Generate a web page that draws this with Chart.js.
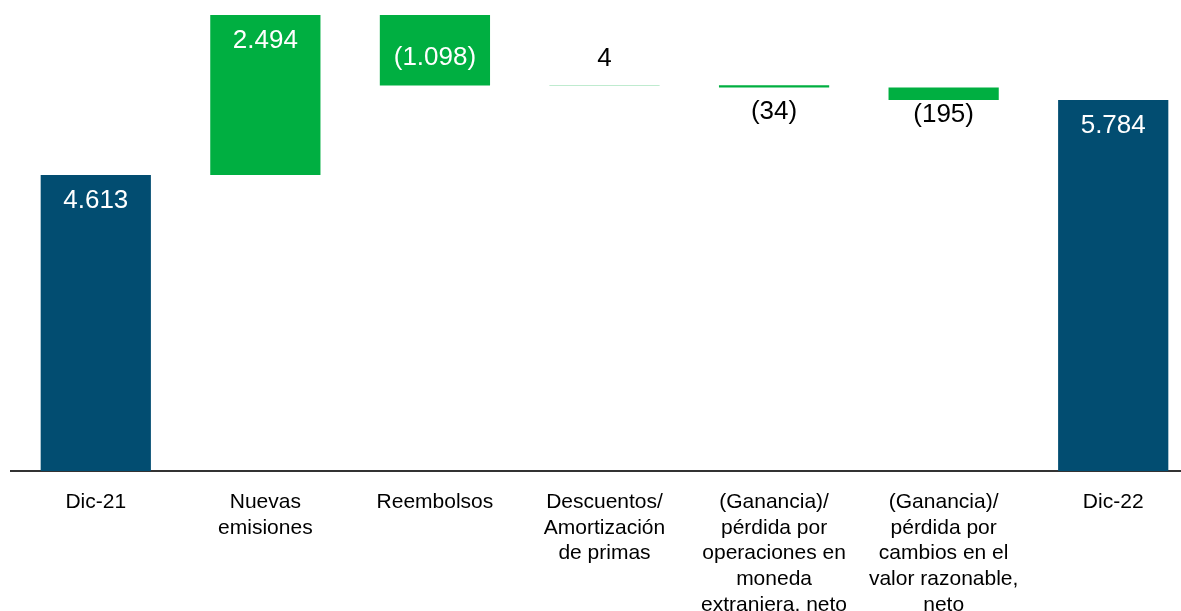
<!DOCTYPE html>
<html>
<head>
<meta charset="utf-8">
<script src="https://cdn.jsdelivr.net/npm/chart.js@4.4.1/dist/chart.umd.min.js"></script>
<style>
  html, body { margin: 0; padding: 0; background: #fff; overflow: hidden; }
  #wrap { width: 1198px; height: 611px; }
</style>
</head>
<body>
<div id="wrap"><canvas id="grafico"></canvas></div>
<script>
// Datos del gráfico
const categorias = [
    'Dic-21',
    ['Nuevas', 'emisiones'],
    'Reembolsos',
    ['Descuentos/', 'Amortización', 'de primas'],
    ['(Ganancia)/', 'pérdida por', 'operaciones en', 'moneda', 'extranjera, neto'],
    ['(Ganancia)/', 'pérdida por', 'cambios en el', 'valor razonable,', 'neto'],
    'Dic-22'
];
const valores = [4613, 2494, -1098, 4, -34, -195, 5784];
const esTotal = [true, false, false, false, false, false, true];

const azul = '#024d71';
const verde = '#00af41';

// Barras flotantes de la cascada
const rangos = [];
let acumulado = 0;
for (let i = 0; i < valores.length; i++) {
    if (esTotal[i]) {
        rangos.push([0, valores[i]]);
        acumulado = valores[i];
    } else {
        rangos.push([acumulado, acumulado + valores[i]]);
        acumulado += valores[i];
    }
}

function formato(v) {
    const s = Math.abs(v).toString().replace(/\B(?=(\d{3})+(?!\d))/g, '.');
    return v < 0 ? '(' + s + ')' : s;
}

const etiquetas = {
    id: 'etiquetas',
    afterDatasetsDraw(chart) {
        const ctx = chart.ctx;
        const meta = chart.getDatasetMeta(0);
        ctx.save();
        ctx.font = '26px "Liberation Sans", Arial, sans-serif';
        ctx.textAlign = 'center';
        ctx.textBaseline = 'middle';
        meta.data.forEach((bar, i) => {
            const v = valores[i];
            const top = Math.min(bar.y, bar.base);
            const bottom = Math.max(bar.y, bar.base);
            const alto = bottom - top;
            let y;
            if (alto > 40) {
                ctx.fillStyle = '#fff';
                y = v < 0 && !esTotal[i] ? (top + bottom) / 2 + 8 : top + 26;
            } else {
                ctx.fillStyle = '#000';
                y = v >= 0 ? top - 26 : top + 27;
            }
            ctx.fillText(formato(v), bar.x, y);
        });
        ctx.restore();
    }
};

new Chart(document.getElementById('grafico').getContext('2d'), {
    type: 'bar',
    data: {
        labels: categorias,
        datasets: [{
            data: rangos,
            backgroundColor: esTotal.map(t => t ? azul : verde),
            borderWidth: 0,
            borderSkipped: false,
            categoryPercentage: 1,
            barPercentage: 0.65
        }]
    },
    options: {
        responsive: true,
        maintainAspectRatio: false,
        animation: false,
        layout: { padding: { left: 11, right: 0, top: 0, bottom: 0 } },
        plugins: {
            legend: { display: false },
            tooltip: { enabled: false }
        },
        scales: {
            x: {
                grid: { display: false, drawTicks: false },
                border: { display: true, color: '#333', width: 2 },
                ticks: {
                    color: '#000',
                    padding: 18,
                    maxRotation: 0,
                    autoSkip: false,
                    font: { family: '"Liberation Sans", Arial, sans-serif', size: 21, lineHeight: 1.23 }
                },
                afterFit(scale) { scale.height = 140; }
            },
            y: {
                display: false,
                min: 0,
                max: 7341
            }
        }
    },
    plugins: [etiquetas]
});
</script>
</body>
</html>
